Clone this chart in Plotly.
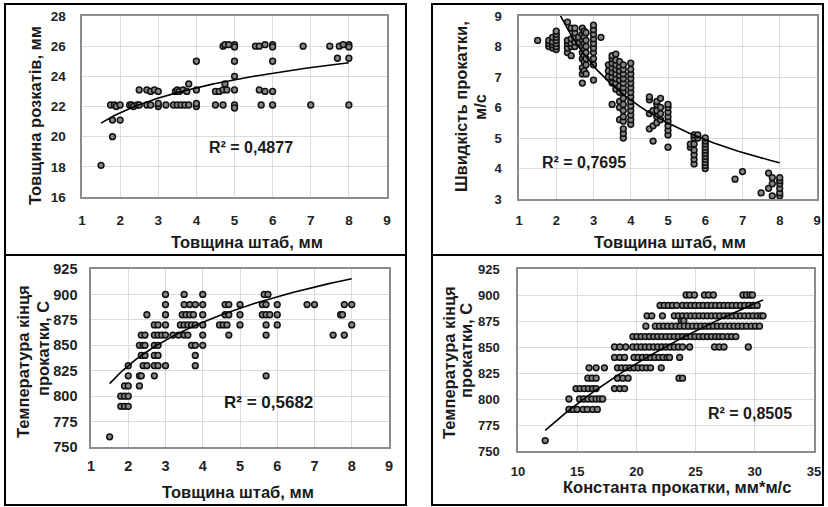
import numpy as np
import plotly.graph_objects as go

W, H = 828, 507

# ---------------- Panel A: strip thickness vs slab thickness ----------------
A_x = [1.5, 1.8, 1.8, 2.0,
       1.75, 1.85, 1.9, 2.0, 2.25, 2.3, 2.35, 2.45, 2.5, 2.7, 2.8, 3.0, 3.0, 3.2, 3.4, 3.5, 3.6, 3.7, 3.8,
       4.0, 4.0, 4.5, 4.7, 5.0, 5.0, 5.7, 6.0, 7.0, 8.0,
       2.5, 2.7, 2.8, 2.9, 3.0, 3.45, 3.5, 3.55, 3.65, 3.75, 3.8, 4.0, 4.5, 4.6, 4.7, 4.75, 4.8, 5.0, 5.0,
       5.65, 5.8, 6.0,
       4.0, 5.0, 6.0, 7.7, 8.0,
       4.7, 4.75, 4.85, 5.0, 5.0, 5.55, 5.65, 5.8, 6.0, 6.0, 6.8, 7.5, 7.75, 7.85, 8.0, 8.0]
A_y = [18.1, 20.0, 21.1, 21.1,
       22.1, 22.1, 22.0, 22.1, 22.1, 22.1, 22.0, 22.1, 22.1, 22.1, 22.1, 22.0, 22.2, 22.1, 22.1, 22.1, 22.1, 22.1, 22.1,
       22.0, 22.2, 22.1, 22.1, 22.1, 21.9, 22.1, 22.1, 22.1, 22.1,
       23.1, 23.1, 23.0, 23.1, 23.0, 23.0, 23.1, 23.0, 23.1, 23.0, 23.5, 23.1, 23.0, 23.0, 23.1, 23.5, 23.1, 23.1, 24.0,
       23.1, 23.0, 23.0,
       25.0, 25.0, 25.0, 25.2, 25.2,
       26.0, 26.1, 26.1, 26.1, 25.95, 26.0, 26.0, 26.1, 26.1, 25.95, 26.0, 26.0, 26.0, 26.1, 26.1, 25.95]
A_r2 = "R² = 0,4877"
A_trend = ("log", 19.93, 2.39)          # y = a + b*ln(x)

# ---------------- Panel B: strip thickness vs rolling speed (stacks) ----------------
B_stacks = {
    1.5: [8.2],
    1.8: [8.0, 8.1, 8.2],
    1.9: [7.95, 8.05, 8.15, 8.3],
    2.0: [7.9, 8.0, 8.1, 8.2, 8.3, 8.4, 8.5],
    2.3: [7.8, 7.95, 8.1, 8.2, 8.8],
    2.4: [7.7, 8.0, 8.1, 8.25, 8.6],
    2.5: [8.0, 8.15, 8.3, 8.45, 8.6],
    2.6: [8.1, 8.3],
    2.7: [6.8, 7.1, 7.3, 7.6, 7.8, 8.0, 8.2, 8.4, 8.6],
    2.75: [7.2, 7.5, 7.7, 7.9, 8.1, 8.3, 8.5],
    2.8: [7.1, 7.4, 7.6, 7.8, 8.0, 8.2, 8.45],
    3.0: [6.9, 7.4, 7.6, 7.8, 7.95, 8.1, 8.25, 8.4, 8.55, 8.7],
    3.2: [8.3],
    3.4: [7.0, 7.2, 7.4],
    3.5: [6.1, 6.8, 7.0, 7.15, 7.3, 7.45, 7.6, 7.7],
    3.6: [6.6, 6.8, 6.95, 7.1, 7.25, 7.4, 7.55, 7.75],
    3.7: [5.6, 6.0, 6.2, 6.5, 6.7, 6.9, 7.05, 7.2, 7.35, 7.5],
    3.8: [5.0, 5.15, 5.3, 5.55, 5.7, 5.9, 6.1, 6.3, 6.5, 6.65, 6.8, 6.95, 7.1, 7.25, 7.4],
    4.0: [5.45, 5.6, 5.75, 5.9, 6.05, 6.2, 6.35, 6.5, 6.65, 6.8, 6.95, 7.1, 7.25, 7.45],
    4.5: [5.3, 5.8, 6.25, 6.35],
    4.6: [4.9, 5.4, 5.9],
    4.7: [5.5, 5.7, 5.9, 6.1, 6.2],
    4.8: [5.6, 5.8, 6.0, 6.3],
    5.0: [4.7, 5.1, 5.25, 5.4, 5.55, 5.7, 5.85, 6.0, 6.1],
    5.6: [4.7, 4.8],
    5.7: [4.15, 4.3, 4.45, 4.6, 4.8, 5.0, 5.1],
    5.8: [5.0, 5.1],
    6.0: [4.0, 4.1, 4.2, 4.3, 4.4, 4.5, 4.6, 4.7, 4.8, 4.9, 5.0],
    6.8: [3.65],
    7.0: [3.9],
    7.5: [3.2],
    7.7: [3.35, 3.85],
    7.8: [3.1, 3.5, 3.7],
    8.0: [3.1, 3.2, 3.35, 3.5, 3.6, 3.7],
}
B_r2 = "R² = 0,7695"
B_trend = ("power", 13.85, -0.575)      # y = a * x^b

# ---------------- Panel C: strip thickness vs finish temperature (rows) ----------------
C_rows = {
    900: [3.0, 3.5, 4.0, 5.65, 5.75],
    890: [3.0, 3.5, 3.65, 3.8, 4.0, 4.6, 4.7, 5.0, 5.6, 5.7, 6.0, 6.8, 7.0, 7.8, 8.0],
    880: [2.5, 3.0, 3.45, 3.55, 3.65, 3.75, 4.0, 4.6, 4.7, 5.0, 5.6, 5.7, 5.8, 6.0, 7.7, 7.75],
    870: [2.7, 2.8, 3.0, 3.4, 3.5, 3.6, 3.7, 3.8, 4.0, 4.45, 4.55, 4.65, 5.0, 5.7, 6.0, 8.0],
    860: [2.35, 2.45, 2.7, 2.8, 2.9, 3.0, 3.2, 3.35, 3.5, 3.6, 4.0, 4.7, 5.7, 7.5, 7.8],
    850: [2.3, 2.4, 2.45, 2.7, 2.8, 3.7, 3.8, 4.0],
    840: [2.35, 2.45, 2.7, 2.8, 3.8],
    830: [2.0, 2.4, 2.5, 2.7, 2.8, 3.0, 3.8],
    820: [2.0, 2.3, 2.35, 2.7, 5.7],
    810: [1.9, 2.0, 2.3],
    800: [1.8, 1.9, 2.0],
    790: [1.8, 1.9, 2.0],
    760: [1.5],
}
C_r2 = "R² = 0,5682"
C_trend = ("log", 787.3, 61.65)         # y = a + b*ln(x)

# ---------------- Panel D: rolling constant vs finish temperature (rows) ----------------
D_rows = {
    900: [24.2, 24.5, 24.9, 25.75, 26.1, 26.5, 29.0, 29.3, 29.6, 29.8],
    890: [22.0, 22.35, 22.7, 23.05, 23.4, 23.9, 24.25, 24.6, 24.95, 25.3, 25.65, 26.0, 26.35, 26.7,
          27.05, 27.4, 27.75, 28.1, 28.45, 28.8, 29.15, 29.5, 29.85, 30.2],
    880: [20.9, 21.3, 22.2, 23.2, 23.55, 23.9, 24.25, 24.6, 24.95, 25.3, 25.65, 26.0, 26.35, 26.7,
          27.05, 27.4, 27.75, 28.1, 28.45, 28.8, 29.15, 29.5, 29.85, 30.2, 30.5, 30.7],
    875: [23.8, 24.0],
    870: [20.8, 21.6, 21.95, 22.3, 22.65, 23.0, 23.35, 23.7, 24.05, 24.4, 24.75, 25.1, 25.45, 25.8,
          26.15, 26.5, 26.85, 27.2, 27.55, 27.9, 28.25, 28.6, 28.95, 29.3, 29.7, 30.05, 30.4],
    860: [19.7, 20.05, 20.4, 20.75, 21.1, 21.45, 21.8, 22.15, 22.5, 22.85, 23.2, 23.55, 23.9, 24.25,
          24.6, 24.95, 25.3, 25.65, 26.0, 26.35, 26.7, 27.0, 27.3, 27.7, 28.05, 28.4],
    850: [18.15, 18.6, 19.1, 19.7, 20.05, 20.4, 20.75, 21.1, 21.45, 21.8, 22.15, 22.5, 22.85, 23.2,
          23.55, 23.9, 24.5, 26.6, 27.0, 27.4, 29.45],
    840: [18.15, 18.6, 19.0, 19.8, 20.15, 20.5, 20.85, 21.2, 21.55, 21.9, 22.25, 22.6, 22.8, 23.65],
    830: [16.0, 16.6, 17.3, 18.4, 18.75, 19.1, 19.45, 19.8, 20.15, 20.5, 20.85, 21.2, 22.1],
    820: [15.9, 16.25, 16.6, 18.4, 18.85, 19.3, 23.6, 23.9],
    810: [14.9, 15.25, 15.6, 15.95, 16.3, 16.6, 18.15, 18.6, 19.0],
    800: [14.3, 15.2, 15.55, 15.9, 16.25, 16.6, 16.9, 17.15],
    790: [14.3, 14.65, 15.0, 15.5, 15.85, 16.3, 16.7],
    760: [12.3],
}
D_r2 = "R² = 0,8505"
D_trend = ("power", 508.5, 0.1652)      # y = a * x^b

# ---------------- build point arrays ----------------
B_x = [x for x, ys in B_stacks.items() for _ in ys]
B_y = [y for ys in B_stacks.values() for y in ys]
C_x = [x for xs in C_rows.values() for x in xs]
C_y = [y for y, xs in C_rows.items() for _ in xs]
D_x = [x for xs in D_rows.values() for x in xs]
D_y = [y for y, xs in D_rows.items() for _ in xs]


def trend_line(px, spec):
    kind, a, b = spec
    xs = np.linspace(min(px), max(px), 150)
    if kind == "log":
        return xs, a + b * np.log(xs)
    return xs, a * xs ** b


FONT = "Liberation Sans, Arial, sans-serif"
marker = dict(symbol="circle", size=5.8, color="#858585", line=dict(color="#111111", width=1.5))

fig = go.Figure()
panels = [
    ("x", "y", A_x, A_y, A_trend),
    ("x2", "y2", B_x, B_y, B_trend),
    ("x3", "y3", C_x, C_y, C_trend),
    ("x4", "y4", D_x, D_y, D_trend),
]
for xa, ya, px, py, spec in panels:
    fig.add_trace(go.Scatter(x=px, y=py, mode="markers", marker=marker, xaxis=xa, yaxis=ya,
                             showlegend=False, hoverinfo="skip"))
    tx, ty = trend_line(px, spec)
    fig.add_trace(go.Scatter(x=tx, y=ty, mode="lines", line=dict(color="black", width=1.6),
                             xaxis=xa, yaxis=ya, showlegend=False, hoverinfo="skip"))


def fx(px):
    return px / W


def fy(py):
    return 1 - py / H


def axis(domain, rng, dtick, anchor, standoff, size):
    return dict(domain=domain, range=rng, dtick=dtick, tick0=rng[0], anchor=anchor,
                showgrid=True, gridcolor="#dcdcdc", gridwidth=1,
                showline=True, linecolor="#8c8c8c", linewidth=1.6, mirror=True,
                zeroline=False, ticks="", ticklabelstandoff=standoff, automargin=False,
                tickfont=dict(family=FONT, size=size, color="#222", weight="bold"),
                fixedrange=True)


fig.update_layout(
    width=W, height=H, margin=dict(l=0, r=0, t=0, b=0, autoexpand=False),
    paper_bgcolor="white", plot_bgcolor="white",
    xaxis=axis([fx(82), fx(387)], [1, 9], 1, "y", 10, 13.5),
    yaxis=axis([fy(197), fy(16)], [16, 28], 2, "x", 12, 13.5),
    xaxis2=axis([fx(519), fx(817)], [1, 9], 1, "y2", 9, 13),
    yaxis2=axis([fy(199), fy(16)], [3, 9], 1, "x2", 13, 13),
    xaxis3=axis([fx(91), fx(389)], [1, 9], 1, "y3", 5, 14.5),
    yaxis3=axis([fy(447), fy(269)], [750, 925], 25, "x3", 9, 14.5),
    xaxis4=axis([fx(518), fx(814)], [10, 35], 5, "y4", 8, 13),
    yaxis4=axis([fy(451), fy(269)], [750, 925], 25, "x4", 14, 13),
)

# panel frames
frames = [(5, 4, 406, 255), (432, 4, 823, 255), (5, 255, 406, 505), (432, 255, 823, 505)]
for x0, y0, x1, y1 in frames:
    fig.add_shape(type="rect", xref="paper", yref="paper",
                  x0=fx(x0), x1=fx(x1), y0=fy(y1), y1=fy(y0),
                  line=dict(color="black", width=2), fillcolor="rgba(0,0,0,0)", layer="above")


def text(t, x, y, size=16.5, angle=0):
    fig.add_annotation(text=t, x=fx(x), y=fy(y), xref="paper", yref="paper", showarrow=False,
                       textangle=angle, xanchor="center", yanchor="middle",
                       font=dict(family=FONT, size=size, color="#1a1a1a", weight="bold"))


# axis titles
text("Товщина штаб, мм", 247, 242)
text("Товщина розкатів, мм", 35, 116, angle=-90)
text("Товщина штаб, мм", 670, 242)
text("Швидкість прокатки,", 461, 107, angle=-90)
text("м/с", 480, 107, angle=-90)
text("Товщина штаб, мм", 238, 492)
text("Температура кінця", 23, 362, angle=-90)
text("прокатки, С", 43, 349, angle=-90)
text("Константа прокатки, мм*м/с", 677, 487)
text("Температура кінця", 449, 363, angle=-90)
text("прокатки, С", 466, 350, angle=-90)

# R² labels
text(A_r2, 251, 148, size=16)
text(B_r2, 584, 162, size=16)
text(C_r2, 268, 402, size=17)
text(D_r2, 750, 413, size=16)

fig.write_html("out.html", config={"displayModeBar": False, "staticPlot": True},
               post_script="document.body.style.margin='0';document.body.style.overflow='hidden';")
